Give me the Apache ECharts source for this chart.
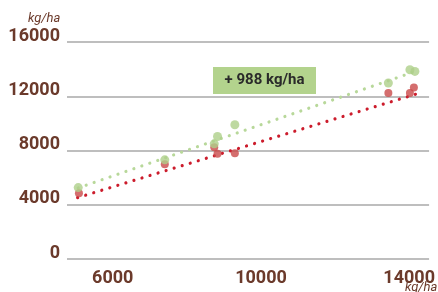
<!DOCTYPE html>
<html><head><meta charset="utf-8">
<script src="https://cdn.jsdelivr.net/npm/echarts@6/dist/echarts.min.js"></script>
<style>html,body{margin:0;padding:0;background:#fff}#c{width:438px;height:292px}</style>
</head><body><div id="c"></div>
<script>
// Data
const greenPoints = [[5068,5265],[7404,7310],[8739,8492],[8827,9031],[9295,9895],[13438,12974],[14020,13956],[14154,13830]];
const redPoints = [[5087,4851],[7404,6993],[8739,8248],[8827,7753],[9295,7805],[13438,12235],[14020,12235],[14127,12649]];
const greenTrend = [[5068,5242],[14243,13904]];
const redTrend = [[5052,4526],[14216,12184]];
const xTicks = [6000,10000,14000];
const yTicks = [0,4000,8000,12000,16000];
const unitLabel = 'kg/ha';
const annotation = '+ 988 kg/ha';

const brown = '#6b3a2b';
const chart = echarts.init(document.getElementById('c'), null, {renderer:'canvas'});
chart.setOption({
  animation:false,
  grid:{left:67,right:7,top:42,bottom:33},
  xAxis:{type:'value',min:4765,max:14537,
    axisLine:{show:false},axisTick:{show:false},splitLine:{show:false},
    axisLabel:{customValues:xTicks,formatter:v=>String(v),margin:10,color:brown,fontFamily:'Roboto',fontWeight:'bold',fontSize:18}},
  yAxis:{type:'value',min:0,max:16000,interval:4000,
    axisLine:{show:false},axisTick:{show:false},
    splitLine:{lineStyle:{color:'#a8a8a8',width:1.5}},
    axisLabel:{formatter:v=>String(v),margin:7,color:brown,fontFamily:'Roboto',fontWeight:'bold',fontSize:18,verticalAlign:'bottom',lineHeight:12}},
  graphic:[
    {type:'text',left:28,top:12,style:{text:unitLabel,fill:brown,font:'italic 13px Roboto'}},
    {type:'text',left:405,top:281,style:{text:unitLabel,fill:brown,font:'italic 13px Roboto'}},
    {type:'rect',shape:{x:213,y:67,width:103,height:27},style:{fill:'#b3d38d'}},
    {type:'text',x:264.5,y:80.5,style:{text:annotation,fill:'#2a2a2a',font:'bold 15px Roboto',textAlign:'center',textVerticalAlign:'middle'}}
  ],
  series:[
    {type:'line',data:greenTrend,symbol:'none',lineStyle:{color:'#b8d89a',width:3.2,type:[0.01,8.4],cap:'round'},z:2},
    {type:'line',data:redTrend,symbol:'none',lineStyle:{color:'#cc1c2c',width:3.2,type:[0.01,8.4],cap:'round'},z:2},
    {type:'scatter',data:redPoints,symbolSize:8,itemStyle:{color:'#c94a4a'},z:3},
    {type:'scatter',data:greenPoints,symbolSize:9,itemStyle:{color:'#aed08a'},z:4}
  ]
});
</script></body></html>
